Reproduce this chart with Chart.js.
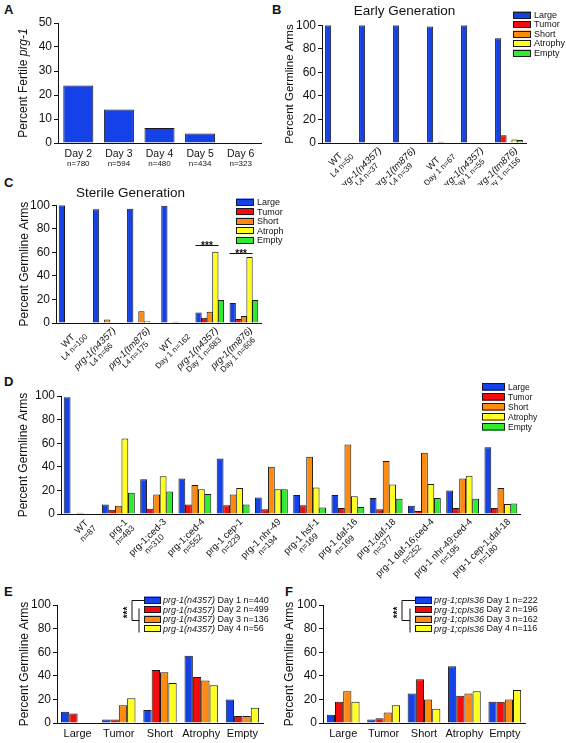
<!DOCTYPE html>
<html>
<head>
<meta charset="utf-8">
<script src="https://cdn.jsdelivr.net/npm/chart.js@4.4.0/dist/chart.umd.min.js"></script>
<style>
  body { margin: 0; background: #fff; width: 566px; height: 743px; position: relative; overflow: hidden;
         font-family: 'Liberation Sans', Arial, sans-serif; }
  canvas { position: absolute; }
  .lt { position: absolute; font-weight: bold; font-size: 13px; color: #111; }
</style>
</head>
<body>
<div class="lt" style="left:4px;top:2px">A</div>
<div class="lt" style="left:272px;top:2px">B</div>
<div class="lt" style="left:4px;top:175px">C</div>
<div class="lt" style="left:4px;top:374px">D</div>
<div class="lt" style="left:4px;top:584px">E</div>
<div class="lt" style="left:285px;top:584px">F</div>

<canvas id="cA" style="left:0;top:0" width="283" height="175"></canvas>
<canvas id="cB" style="left:283px;top:0" width="283" height="185"></canvas>
<canvas id="cC" style="left:0;top:178px" width="283" height="200"></canvas>
<canvas id="cD" style="left:0;top:378px" width="566" height="232"></canvas>
<canvas id="cE" style="left:0;top:595px" width="283" height="148"></canvas>
<canvas id="cF" style="left:283px;top:595px" width="283" height="148"></canvas>

<script>
// ---- data ----
const aDays = ['Day 2', 'Day 3', 'Day 4', 'Day 5', 'Day 6'];
const aN = ['n=780', 'n=594', 'n=480', 'n=434', 'n=323'];
const aFertile = [24, 14, 6.2, 4, 0];

const types = ['Large', 'Tumor', 'Short', 'Atrophy', 'Empty'];

const bStrain = ['WT', 'prg-1(n4357)', 'prg-1(tm876)', 'WT', 'prg-1(n4357)', 'prg-1(tm876)'];
const bSub = ['L4 n=50', 'L4 n=37', 'L4 n=39', 'Day 1 n=67', 'Day 1 n=55', 'Day 1 n=156'];
const bLarge = [100, 100, 100, 99, 100, 89];
const bTumor = [0, 0, 0, 0, 0, 6.5];
const bShort = [0, 0, 0, 1, 0, 0];
const bAtrophy = [0, 0, 0, 0, 0, 3];
const bEmpty = [0, 0, 0, 0, 0, 2.5];

const cStrain = ['WT', 'prg-1(n4357)', 'prg-1(tm876)', 'WT', 'prg-1(n4357)', 'prg-1(tm876)'];
const cSub = ['L4 n=100', 'L4 n=66', 'L4 n=175', 'Day 1 n=162', 'Day 1 n=683', 'Day 1 n=606'];
const cLarge = [100, 96.5, 97, 99.5, 9, 17];
const cTumor = [0, 0, 0, 0, 4.5, 3.5];
const cShort = [0, 3, 10, 1, 9.5, 6];
const cAtrophy = [0, 0, 1.5, 0, 60.5, 56];
const cEmpty = [0, 0, 0, 0, 19.5, 19.5];
const cSigCats = [4, 5];
const cSigLevel = [66, 59];

const dStrain = ['WT', 'prg-1', 'prg-1;ced-3', 'prg-1;ced-4', 'prg-1 cep-1', 'prg-1 nhr-49', 'prg-1 hsf-1',
  'prg-1 daf-16', 'prg-1;daf-18', 'prg-1 daf-16;ced-4', 'prg-1 nhr-49;ced-4', 'prg-1 cep-1;daf-18'];
const dN = ['n=87', 'n=483', 'n=310', 'n=552', 'n=229', 'n=194', 'n=169', 'n=169', 'n=377', 'n=252', 'n=195', 'n=180'];
const dLarge = [99, 8, 29.5, 30, 47, 14, 16, 16, 13.5, 7, 20, 56.5];
const dTumor = [0, 3.5, 4.5, 8, 7.5, 4, 7.5, 5, 4, 2.5, 5, 5];
const dShort = [1, 7, 16.5, 24.5, 16.5, 40, 48.5, 59, 45, 52, 30, 22];
const dAtrophy = [0, 64, 32, 21, 22, 21, 22.5, 15, 25, 25.5, 32.5, 8.5];
const dEmpty = [0, 18, 19, 17, 8, 21, 5.5, 6, 13, 13.5, 13, 9];

const eStrain = 'prg-1(n4357)';
const eDays = [' Day 1 n=440', ' Day 2 n=499', ' Day 3 n=136', ' Day 4 n=56'];
const eDay1 = [9.5, 3, 11, 57, 20];
const eDay2 = [8, 3, 45, 39, 6];
const eDay3 = [0, 15, 43, 36, 6];
const eDay4 = [0, 21, 34, 32, 13];

const fStrain = 'prg-1;cpIs36';
const fDays = [' Day 1 n=222', ' Day 2 n=196', ' Day 3 n=162', ' Day 4 n=116'];
const fDay1 = [7, 3, 25, 48, 18];
const fDay2 = [18, 4, 37, 23, 18];
const fDay3 = [27, 9, 20, 25, 20];
const fDay4 = [18, 15, 12, 27, 28];

// ---- style ----
const FONT = "'Liberation Sans', Arial, sans-serif";
const INK = '#111';
const EDGE = '#1a1a1a';
const COLORS = ['#1441E8', '#F20C0C', '#FF8A10', '#FFFF22', '#30EC30'];

Chart.defaults.font.family = FONT;
Chart.defaults.color = INK;

function ds(label, data, color) {
  return { label: label, data: data, backgroundColor: color, borderColor: EDGE, borderWidth: 1 };
}

function yAxis(max, step, every, width) {
  return {
    min: 0, max: max,
    ticks: { stepSize: step, font: { size: 12 }, color: INK, padding: 2,
             callback: v => (v % every === 0 ? v : '') },
    grid: { drawOnChartArea: false, color: INK, tickLength: 4 },
    border: { color: INK, width: 1 },
    afterFit: s => { s.width = width; }
  };
}

function xAxis(height, show) {
  return {
    ticks: { display: show, font: { size: 11 }, color: INK, padding: 4, maxRotation: 0, minRotation: 0, autoSkip: false },
    grid: { display: false, drawTicks: false, tickLength: 0 },
    border: { color: INK, width: 1 },
    afterFit: s => { s.height = height; }
  };
}

function fontStr(size, italic) {
  return (italic ? 'italic ' : '') + size + 'px ' + FONT;
}

// rotated y title, parts = [[text, italic], ...]
function yTitle(parts, x, size) {
  return {
    id: 'yTitle',
    afterDraw(chart) {
      const ctx = chart.ctx, a = chart.chartArea;
      ctx.save();
      ctx.translate(x, (a.top + a.bottom) / 2);
      ctx.rotate(-Math.PI / 2);
      let w = 0;
      parts.forEach(p => { ctx.font = fontStr(size, p[1]); w += ctx.measureText(p[0]).width; });
      let px = -w / 2;
      ctx.fillStyle = INK; ctx.textAlign = 'left'; ctx.textBaseline = 'middle';
      parts.forEach(p => {
        ctx.font = fontStr(size, p[1]);
        ctx.fillText(p[0], px, 0);
        px += ctx.measureText(p[0]).width;
      });
      ctx.restore();
    }
  };
}

// two-line horizontal category labels (panel A)
function flatLabels(l1, l2, o) {
  return {
    id: 'flatLabels',
    afterDraw(chart) {
      const ctx = chart.ctx, xs = chart.scales.x, b = chart.chartArea.bottom;
      ctx.save();
      ctx.fillStyle = INK; ctx.textAlign = 'center'; ctx.textBaseline = 'middle';
      l1.forEach((t, i) => {
        const x = xs.getPixelForValue(i);
        ctx.font = fontStr(o.s1); ctx.fillText(t, x, b + o.y1);
        ctx.font = fontStr(o.s2); ctx.fillText(l2[i], x, b + o.y2);
      });
      ctx.restore();
    }
  };
}

// two-line rotated category labels, lines centred on each other
function rotLabels(l1, l2, o) {
  return {
    id: 'rotLabels',
    afterDraw(chart) {
      const ctx = chart.ctx, xs = chart.scales.x, b = chart.chartArea.bottom;
      ctx.save();
      ctx.fillStyle = INK; ctx.textAlign = 'center'; ctx.textBaseline = 'middle';
      l1.forEach((t, i) => {
        const f1 = fontStr(o.s1, o.italic && t.startsWith('prg'));
        const f2 = fontStr(o.s2);
        ctx.font = f1; const w1 = ctx.measureText(t).width;
        ctx.font = f2; const w2 = ctx.measureText(l2[i]).width;
        const w = Math.max(w1, w2);
        ctx.save();
        ctx.translate(xs.getPixelForValue(i) + o.dx, b + o.dy);
        ctx.rotate(-Math.PI / 4);
        ctx.font = f1; ctx.fillText(t, -w / 2, o.lh * 0.5);
        ctx.font = f2; ctx.fillText(l2[i], -w / 2, o.lh * 1.5);
        ctx.restore();
      });
      ctx.restore();
    }
  };
}

// legend with boxes; items = [[[text, italic], ...], ...]
function boxLegend(items, o) {
  return {
    id: 'boxLegend',
    afterDraw(chart) {
      const ctx = chart.ctx;
      ctx.save();
      items.forEach((parts, i) => {
        const y = o.y + i * o.dy;
        ctx.fillStyle = chart.data.datasets[i].backgroundColor;
        ctx.fillRect(o.x, y - o.bh / 2, o.bw, o.bh);
        ctx.strokeStyle = EDGE; ctx.lineWidth = 1;
        ctx.strokeRect(o.x + 0.5, Math.round(y - o.bh / 2) + 0.5, o.bw - 1, o.bh - 1);
        let x = o.x + o.bw + o.gap;
        ctx.fillStyle = INK; ctx.textAlign = 'left'; ctx.textBaseline = 'middle';
        parts.forEach(p => {
          ctx.font = fontStr(o.size, p[1]);
          ctx.fillText(p[0], x, y + 0.5);
          x += ctx.measureText(p[0]).width;
        });
      });
      ctx.restore();
    }
  };
}

// significance bars over groups (panel C)
function sigLines(cats, levels) {
  return {
    id: 'sigLines',
    afterDraw(chart) {
      const ctx = chart.ctx, ys = chart.scales.y;
      const m0 = chart.getDatasetMeta(0), m3 = chart.getDatasetMeta(3);
      ctx.save();
      ctx.strokeStyle = INK; ctx.fillStyle = INK; ctx.lineWidth = 1;
      cats.forEach((c, i) => {
        const a = m0.data[c], z = m3.data[c];
        const x1 = a.x - a.width / 2, x2 = z.x + z.width / 2;
        const y = Math.round(ys.getPixelForValue(levels[i])) + 0.5;
        ctx.beginPath(); ctx.moveTo(x1, y); ctx.lineTo(x2, y); ctx.stroke();
        ctx.font = 'bold 10px ' + FONT; ctx.textAlign = 'center'; ctx.textBaseline = 'alphabetic';
        ctx.fillText('***', (x1 + x2) / 2, y + 3);
      });
      ctx.restore();
    }
  };
}

// bracket joining Day 1 with Days 2-4 (panels E, F)
function bracket(o) {
  return {
    id: 'bracket',
    afterDraw(chart) {
      const ctx = chart.ctx;
      const r = [0, 1, 2, 3].map(i => Math.round(o.y + i * o.dy) + 0.5);
      const mid = Math.round((r[1] + r[3]) / 2) + 0.5;
      ctx.save();
      ctx.strokeStyle = INK; ctx.lineWidth = 1;
      ctx.beginPath();
      ctx.moveTo(o.box, r[0]); ctx.lineTo(o.x1, r[0]); ctx.lineTo(o.x1, mid); ctx.lineTo(o.x2, mid);
      ctx.moveTo(o.x2, r[1] - 2); ctx.lineTo(o.x2, r[3] + 3);
      ctx.stroke();
      ctx.translate(o.xs, (r[0] + mid) / 2 + 2);
      ctx.rotate(-Math.PI / 2);
      ctx.fillStyle = INK; ctx.font = 'bold 10px ' + FONT;
      ctx.textAlign = 'center'; ctx.textBaseline = 'middle';
      ctx.fillText('***', 0, 2);
      ctx.restore();
    }
  };
}

function baseOptions(pad, scales, title) {
  return {
    responsive: false,
    animation: false,
    events: [],
    layout: { padding: pad },
    plugins: {
      legend: { display: false },
      tooltip: { enabled: false },
      title: title || { display: false }
    },
    scales: scales
  };
}

const typeItems = types.map(t => [[t, false]]);

// ---- A ----
new Chart(document.getElementById('cA'), {
  type: 'bar',
  data: { labels: aDays, datasets: [Object.assign(ds('Fertile', aFertile, COLORS[0]), { barPercentage: 0.74, categoryPercentage: 1 })] },
  options: baseOptions({ top: 23, right: 22, left: 0, bottom: 0 },
    { x: xAxis(32, false), y: yAxis(50, 5, 10, 58) }),
  plugins: [yTitle([['Percent Fertile ', false], ['prg-1', true]], 24, 12),
            flatLabels(aDays, aN, { s1: 10.5, s2: 8, y1: 11, y2: 21 })]
});

// ---- B ----
function groupSets(arrs, cp, bp) {
  return arrs.map((d, i) => Object.assign(ds(types[i], d, COLORS[i]), { barPercentage: bp, categoryPercentage: cp }));
}

new Chart(document.getElementById('cB'), {
  type: 'bar',
  data: { labels: bStrain, datasets: groupSets([bLarge, bTumor, bShort, bAtrophy, bEmpty], 0.8, 1.12) },
  options: baseOptions({ top: 0, right: 40, left: 0, bottom: 0 },
    { x: xAxis(42, false), y: yAxis(100, 10, 20, 39) },
    { display: true, text: 'Early Generation', color: INK, font: { size: 13.5, weight: 'normal' },
      padding: { top: 3, bottom: 6 } }),
  plugins: [yTitle([['Percent Germline Arms', false]], 7, 11.5),
            boxLegend(typeItems, { x: 230, y: 15, dy: 9.5, bw: 18, bh: 7, gap: 3, size: 9 }),
            rotLabels(bStrain, bSub, { s1: 9.5, s2: 8, lh: 9, dx: 4, dy: 3, italic: true })]
});

// ---- C ----
new Chart(document.getElementById('cC'), {
  type: 'bar',
  data: { labels: cStrain, datasets: groupSets([cLarge, cTumor, cShort, cAtrophy, cEmpty], 0.82, 1.12) },
  options: baseOptions({ top: 0, right: 22, left: 0, bottom: 0 },
    { x: xAxis(55, false), y: yAxis(100, 10, 20, 56) },
    { display: true, text: 'Sterile Generation', color: INK, font: { size: 13.5, weight: 'normal' },
      padding: { top: 7, bottom: 4 } }),
  plugins: [yTitle([['Percent Germline Arms', false]], 25, 12),
            boxLegend(typeItems, { x: 236, y: 24, dy: 9.6, bw: 18, bh: 7, gap: 3, size: 9 }),
            sigLines(cSigCats, cSigLevel),
            rotLabels(cStrain, cSub, { s1: 9.5, s2: 8, lh: 9, dx: 4, dy: 3, italic: true })]
});

// ---- D ----
new Chart(document.getElementById('cD'), {
  type: 'bar',
  data: { labels: dStrain, datasets: groupSets([dLarge, dTumor, dShort, dAtrophy, dEmpty], 0.85, 1.05) },
  options: baseOptions({ top: 18, right: 46, left: 0, bottom: 0 },
    { x: xAxis(96, false), y: yAxis(100, 10, 20, 61) }),
  plugins: [yTitle([['Percent Germline Arms', false]], 24, 12),
            boxLegend(typeItems, { x: 482, y: 9, dy: 10, bw: 23, bh: 7.5, gap: 3, size: 8.5 }),
            rotLabels(dStrain, dN, { s1: 9.5, s2: 8.5, lh: 9.5, dx: 5, dy: 3, italic: false })]
});

// ---- E ----
function daySets(arrs) {
  return arrs.map((d, i) => Object.assign(ds('Day ' + (i + 1), d, COLORS[i]), { barPercentage: 1, categoryPercentage: 0.81 }));
}

new Chart(document.getElementById('cE'), {
  type: 'bar',
  data: { labels: types, datasets: daySets([eDay1, eDay2, eDay3, eDay4]) },
  options: baseOptions({ top: 10, right: 20, left: 0, bottom: 0 },
    { x: xAxis(20, true), y: yAxis(100, 10, 20, 57) }),
  plugins: [yTitle([['Percent Germline Arms', false]], 25, 12),
            boxLegend(eDays.map(d => [[eStrain, true], [d, false]]), { x: 144, y: 5, dy: 9.5, bw: 17, bh: 7, gap: 2, size: 9 }),
            bracket({ box: 144, x1: 132, x2: 139, xs: 126, y: 5, dy: 9.5 })]
});

// ---- F ----
new Chart(document.getElementById('cF'), {
  type: 'bar',
  data: { labels: types, datasets: daySets([fDay1, fDay2, fDay3, fDay4]) },
  options: baseOptions({ top: 10, right: 41, left: 0, bottom: 0 },
    { x: xAxis(20, true), y: yAxis(100, 10, 20, 40) }),
  plugins: [yTitle([['Percent Germline Arms', false]], 7, 12),
            boxLegend(fDays.map(d => [[fStrain, true], [d, false]]), { x: 132, y: 5, dy: 9.5, bw: 17, bh: 7, gap: 2, size: 9 }),
            bracket({ box: 132, x1: 119, x2: 127, xs: 113, y: 5, dy: 9.5 })]
});
</script>
</body>
</html>
